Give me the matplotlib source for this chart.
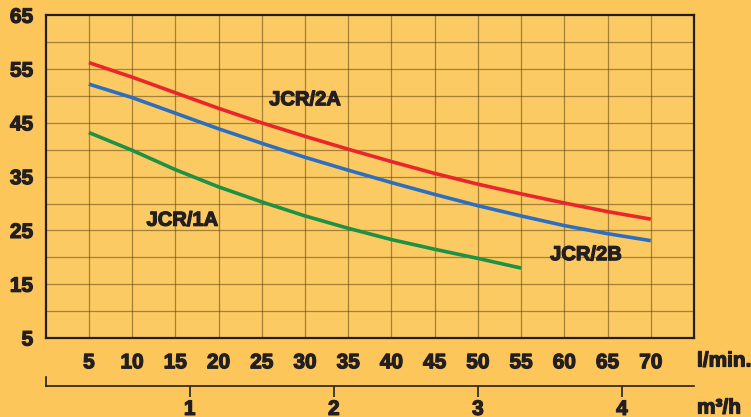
# -*- coding: utf-8 -*-
"""
Pump curves JCR/1A, JCR/2A, JCR/2B : head (m) against flow (l/min and m3/h)
"""
#%% --- Import Required Packages ---

import matplotlib
matplotlib.use("Agg")
import matplotlib.pyplot as plt
import matplotlib.patheffects as pe

#%% --- Data ---

flow_lpm = [5, 10, 15, 20, 25, 30, 35, 40, 45, 50, 55, 60, 65, 70]
head_jcr_2a = [56.2, 53.5, 50.6, 47.7, 45.0, 42.5, 40.1, 37.8, 35.6, 33.6,
               31.8, 30.1, 28.5, 27.1]
head_jcr_2b = [52.2, 49.7, 46.8, 43.9, 41.2, 38.6, 36.2, 33.9, 31.7, 29.6,
               27.7, 25.9, 24.4, 23.1]

flow_lpm_1a = [5, 10, 15, 20, 25, 30, 35, 40, 45, 50, 55]
head_jcr_1a = [43.2, 39.9, 36.3, 33.1, 30.3, 27.7, 25.4, 23.3, 21.5, 19.8, 18.0]

y_tick_values = [5, 15, 25, 35, 45, 55, 65]
x_tick_values = [5, 10, 15, 20, 25, 30, 35, 40, 45, 50, 55, 60, 65, 70]
m3h_tick_values = [1, 2, 3, 4]

#%% --- Style ---

plt.rcParams["font.family"] = ["Liberation Sans", "DejaVu Sans"]
plt.rcParams["font.weight"] = "bold"

bg_color = "#FDC65B"
plot_bg = "#FCCA62"
ink = "#231F20"
grid_color = "#5E4312"

# Slight stroke to get closer to the heavy condensed face of the original
heavy = [pe.withStroke(linewidth=0.9, foreground=ink)]

W, H = 751, 417
left_px, right_px, top_px, bottom_px = 45.7, 694.0, 15.3, 338.0

#%% --- Create figure and axes ---

fig = plt.figure(figsize=(W / 100, H / 100), dpi=100)
fig.patch.set_facecolor(bg_color)

ax = fig.add_axes([left_px / W, 1 - bottom_px / H,
                   (right_px - left_px) / W, (bottom_px - top_px) / H])
ax.set_facecolor(plot_bg)
ax.set_xlim(0, 75)
ax.set_ylim(5, 65)

# --- Grid every 5 units ---
for gx in range(5, 75, 5):
    ax.axvline(gx, color=grid_color, lw=0.9, alpha=0.55, zorder=1)
for gy in range(10, 65, 5):
    ax.axhline(gy, color=grid_color, lw=0.9, alpha=0.55, zorder=1)

# --- Curves ---
ax.plot(flow_lpm, head_jcr_2a, color="#E8262B", lw=2.6,
        solid_capstyle="butt", zorder=3)
ax.plot(flow_lpm, head_jcr_2b, color="#2D6EC0", lw=2.6,
        solid_capstyle="butt", zorder=3)
ax.plot(flow_lpm_1a, head_jcr_1a, color="#1E9144", lw=2.6,
        solid_capstyle="butt", zorder=3)

# --- Curve labels ---
label_kw = dict(fontsize=14.5, fontweight="bold", color=ink,
                ha="center", va="center", zorder=4, path_effects=heavy)
ax.text(30.0, 49.3, "JCR/2A", **label_kw)
ax.text(15.8, 26.9, "JCR/1A", **label_kw)
ax.text(62.5, 20.5, "JCR/2B", **label_kw)

# --- Ticks ---
ax.set_yticks(y_tick_values)
ax.set_yticklabels([str(v) for v in y_tick_values])
ax.set_xticks(x_tick_values)
ax.set_xticklabels([str(v) for v in x_tick_values])
ax.tick_params(axis="both", length=0, labelsize=15, labelcolor=ink)
ax.tick_params(axis="y", pad=9)
ax.tick_params(axis="x", pad=11)
for lbl in ax.get_xticklabels() + ax.get_yticklabels():
    lbl.set_path_effects(heavy)

for spine in ax.spines.values():
    spine.set_color(ink)
    spine.set_linewidth(1.6)
    spine.set_zorder(5)

fig.text(697 / W, 1 - 361 / H, "l/min.", fontsize=15, fontweight="bold",
         color=ink, ha="left", va="center", path_effects=heavy)

#%% --- Secondary scale in m3/h ---

line_y_px = 386
ax2 = fig.add_axes([left_px / W, 1 - line_y_px / H,
                    (right_px - left_px) / W, 9 / H])
ax2.patch.set_alpha(0)
ax2.set_xlim(0, 75)
ax2.set_ylim(0, 1)
ax2.set_xticks([v * 1000 / 60 for v in m3h_tick_values])
ax2.set_xticklabels([str(v) for v in m3h_tick_values])
ax2.set_yticks([])
ax2.tick_params(axis="x", direction="out", length=8, width=1.2,
                color=ink, labelsize=15, labelcolor=ink, pad=2)
for lbl in ax2.get_xticklabels():
    lbl.set_path_effects(heavy)
for side in ["top", "right"]:
    ax2.spines[side].set_visible(False)
for side in ["bottom", "left"]:
    ax2.spines[side].set_color(ink)
    ax2.spines[side].set_linewidth(1.2)

fig.text(697 / W, 1 - 408 / H, "m³/h", fontsize=15, fontweight="bold",
         color=ink, ha="left", va="center", path_effects=heavy)

#%% --- Export ---

fig.savefig("out.png", dpi=100, facecolor=fig.get_facecolor())
